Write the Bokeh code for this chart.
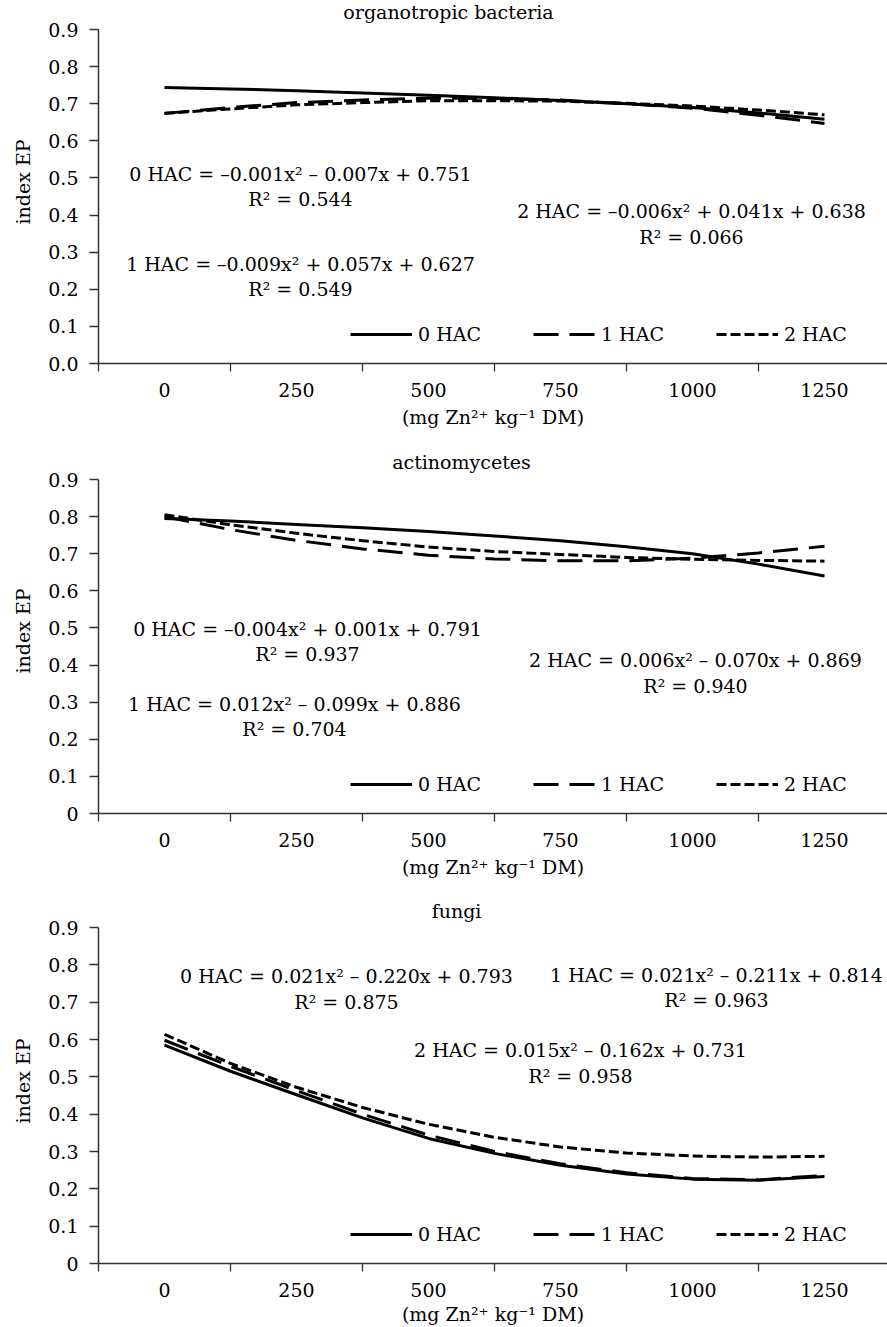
from bokeh.plotting import figure
from bokeh.models import Range1d, FixedTicker, Label, Legend, LegendItem
from bokeh.layouts import column
from bokeh.embed import file_html
from bokeh.resources import INLINE

FONT = "DejaVu Serif"
FS = "19px"

# ---------------- data ----------------
doses = [0, 125, 250, 375, 500, 625, 750, 875, 1000, 1125, 1250]
category_ticks = [0, 250, 500, 750, 1000, 1250]
category_labels = ["0", "250", "500", "750", "1000", "1250"]
boundary_ticks = [-125, 125, 375, 625, 875, 1125, 1375]
y_ticks = [0.0, 0.1, 0.2, 0.3, 0.4, 0.5, 0.6, 0.7, 0.8, 0.9]
y_labels_first = ["0.0", "0.1", "0.2", "0.3", "0.4", "0.5", "0.6", "0.7", "0.8", "0.9"]
y_labels_other = ["0", "0.1", "0.2", "0.3", "0.4", "0.5", "0.6", "0.7", "0.8", "0.9"]
series_names = ["0 HAC", "1 HAC", "2 HAC"]

# organotropic bacteria
bact_0hac = [0.744, 0.740, 0.735, 0.729, 0.723, 0.716, 0.709, 0.700, 0.690, 0.675, 0.658]
bact_1hac = [0.674, 0.690, 0.703, 0.710, 0.715, 0.714, 0.710, 0.700, 0.688, 0.669, 0.647]
bact_2hac = [0.674, 0.686, 0.697, 0.703, 0.708, 0.708, 0.707, 0.701, 0.694, 0.683, 0.670]

# actinomycetes
actino_0hac = [0.795, 0.788, 0.779, 0.770, 0.760, 0.748, 0.735, 0.719, 0.700, 0.672, 0.640]
actino_1hac = [0.800, 0.765, 0.736, 0.713, 0.696, 0.686, 0.681, 0.681, 0.688, 0.702, 0.720]
actino_2hac = [0.805, 0.778, 0.755, 0.735, 0.718, 0.706, 0.698, 0.690, 0.685, 0.682, 0.680]

# fungi
fungi_0hac = [0.585, 0.515, 0.452, 0.390, 0.335, 0.295, 0.263, 0.240, 0.226, 0.223, 0.233]
fungi_1hac = [0.598, 0.528, 0.463, 0.400, 0.344, 0.300, 0.267, 0.243, 0.228, 0.224, 0.236]
fungi_2hac = [0.614, 0.536, 0.472, 0.418, 0.373, 0.338, 0.312, 0.296, 0.288, 0.285, 0.287]

bact_eqs = ["0 HAC = –0.001x² – 0.007x + 0.751", "R² = 0.544",
            "1 HAC = –0.009x² + 0.057x + 0.627", "R² = 0.549",
            "2 HAC = –0.006x² + 0.041x + 0.638", "R² = 0.066"]
actino_eqs = ["0 HAC = –0.004x² + 0.001x + 0.791", "R² = 0.937",
              "1 HAC = 0.012x² – 0.099x + 0.886", "R² = 0.704",
              "2 HAC = 0.006x² – 0.070x + 0.869", "R² = 0.940"]
fungi_eqs = ["0 HAC = 0.021x² – 0.220x + 0.793", "R² = 0.875",
             "1 HAC = 0.021x² – 0.211x + 0.814", "R² = 0.963",
             "2 HAC = 0.015x² – 0.162x + 0.731", "R² = 0.958"]

x_title = "(mg Zn²⁺ kg⁻¹ DM)"
y_title = "index EP"

# ---------------- layout helpers ----------------
FRAME_LEFT = 98
X_END = -125 + 789 * 250 / 132
DASHES = ["solid", "25 11", "10 4"]


def page_x_to_data(px):
    return (px - 164) * 250 / 132


def panel(title, title_px, title_above, series, eqs, eq_pos, ylabels,
          plot_px, head_px, bottom, xlabel_standoff):
    scale = plot_px / 0.9
    frame_h = plot_px + head_px
    p = figure(width=887, height=frame_h + bottom,
               x_range=Range1d(-125, X_END),
               y_range=Range1d(0, 0.9 + head_px / scale),
               output_backend="svg", toolbar_location=None,
               min_border_left=FRAME_LEFT, min_border_right=0,
               min_border_top=0, min_border_bottom=bottom)
    p.background_fill_color = "white"
    p.border_fill_color = "white"
    p.outline_line_color = None
    p.xgrid.visible = False
    p.ygrid.visible = False

    xa = p.xaxis[0]
    xa.ticker = FixedTicker(ticks=category_ticks, minor_ticks=boundary_ticks)
    xa.major_label_overrides = {t: l for t, l in zip(category_ticks, category_labels)}
    xa.major_tick_line_color = None
    xa.major_tick_out = 0
    xa.major_tick_in = 0
    xa.minor_tick_line_color = "#333333"
    xa.minor_tick_out = 8
    xa.minor_tick_in = 0
    xa.minor_tick_line_width = 1.3
    xa.axis_line_color = "#333333"
    xa.axis_line_width = 1.5
    xa.major_label_standoff = 11
    xa.major_label_text_font = FONT
    xa.major_label_text_font_size = FS
    xa.major_label_text_color = "black"
    xa.axis_label = x_title
    xa.axis_label_text_font = FONT
    xa.axis_label_text_font_size = FS
    xa.axis_label_text_font_style = "normal"
    xa.axis_label_text_color = "black"
    xa.axis_label_standoff = xlabel_standoff

    ya = p.yaxis[0]
    ya.bounds = (0, 0.9)
    ya.ticker = FixedTicker(ticks=y_ticks, minor_ticks=[])
    ya.major_label_overrides = {t: l for t, l in zip(y_ticks, ylabels)}
    ya.major_tick_line_color = "#333333"
    ya.major_tick_line_width = 1.3
    ya.major_tick_out = 9
    ya.major_tick_in = 0
    ya.minor_tick_line_color = None
    ya.axis_line_color = "#333333"
    ya.axis_line_width = 1.5
    ya.major_label_standoff = 11
    ya.major_label_text_font = FONT
    ya.major_label_text_font_size = FS
    ya.major_label_text_color = "black"
    ya.axis_label = y_title
    ya.axis_label_text_font = FONT
    ya.axis_label_text_font_size = FS
    ya.axis_label_text_font_style = "normal"
    ya.axis_label_text_color = "black"
    ya.axis_label_standoff = 11

    renderers = []
    for vals, dash in zip(series, DASHES):
        r = p.line(doses, vals, line_color="black", line_width=3, line_dash=dash,
                   line_join="round")
        renderers.append(r)

    legend = Legend(items=[LegendItem(label=n, renderers=[r]) for n, r in zip(series_names, renderers)],
                    orientation="horizontal", location=(252, 18), padding=0, margin=0,
                    spacing=52, glyph_width=62, glyph_height=20, label_standoff=6,
                    label_height=20, label_text_font=FONT, label_text_font_size=FS,
                    label_text_color="black",
                    border_line_alpha=0, background_fill_alpha=0)
    p.add_layout(legend)

    # title inside the extended top strip of the frame
    p.add_layout(Label(x=page_x_to_data(title_px), y=0.9 + title_above / scale, text=title,
                       text_align="center", text_baseline="middle",
                       text_font=FONT, text_font_size=FS, text_color="black"))

    for txt, (px, py) in zip(eqs, eq_pos):
        p.add_layout(Label(x=page_x_to_data(px), y=py / scale, text=txt,
                           text_align="center", text_baseline="middle",
                           text_font=FONT, text_font_size=FS, text_color="black"))
    return p


# equation centres: (page-x, pixels above the x axis)
bact_pos = [(300, 190), (300, 165), (300, 100), (300, 75), (691, 153), (691, 127)]
actino_pos = [(307, 185), (307, 160), (294, 110), (294, 85), (695, 154), (695, 128)]
fungi_pos = [(346, 288), (346, 262), (716, 289), (716, 264), (580, 214), (580, 188)]

p1 = panel("organotropic bacteria", 448, 18, [bact_0hac, bact_1hac, bact_2hac],
           bact_eqs, bact_pos, y_labels_first, 334, 29, 85, 6)
p2 = panel("actinomycetes", 461, 18, [actino_0hac, actino_1hac, actino_2hac],
           actino_eqs, actino_pos, y_labels_other, 334, 31, 85, 6)
p3 = panel("fungi", 456, 17, [fungi_0hac, fungi_1hac, fungi_2hac],
           fungi_eqs, fungi_pos, y_labels_other, 336, 29, 64, 3)

layout = column(p1, p2, p3, spacing=0)
open("out.html", "w").write(file_html(layout, INLINE))
